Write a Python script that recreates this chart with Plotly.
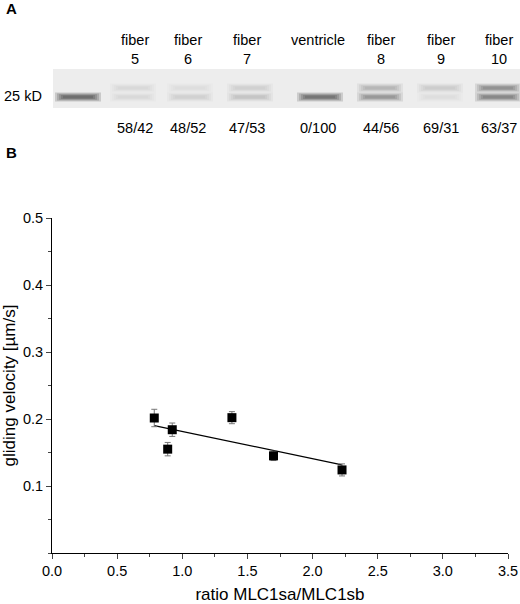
import numpy as np
import plotly.graph_objects as go

ratio = [0.785, 0.888, 0.923, 1.381, 1.70, 2.226]
velocity = [0.2015, 0.155, 0.184, 0.202, 0.145, 0.124]
vel_err = [0.013, 0.010, 0.010, 0.009, 0.007, 0.009]

lane_names = ["fiber<br>5", "fiber<br>6", "fiber<br>7", "ventricle<br> ", "fiber<br>8", "fiber<br>9", "fiber<br>10"]
lane_ratios = ["58/42", "48/52", "47/53", "0/100", "44/56", "69/31", "63/37"]
lane_px = [135, 188, 247, 318, 381, 441, 499]
# band (lane x, upper intensity, lower intensity); first is reference lane
bands = [(78, 0.0, 0.9), (133, 0.10, 0.10), (190, 0.08, 0.13), (250, 0.13, 0.22),
         (320, 0.0, 0.85), (380, 0.32, 0.5), (440, 0.16, 0.08), (498, 0.55, 0.65)]

W, H = 520, 604
L, R, T, B = 52, 12, 218, 51
pw, ph = W - L - R, H - T - B
def px(x): return (x - L) / pw
def py(y): return (H - B - y) / ph

fig = go.Figure()
fit = np.polyfit(ratio, velocity, 1)
xf = np.array([min(ratio), max(ratio)])
fig.add_trace(go.Scatter(x=xf, y=np.polyval(fit, xf), mode="lines",
                         line=dict(color="black", width=1.3), showlegend=False))
fig.add_trace(go.Scatter(x=ratio, y=velocity, mode="markers",
                         marker=dict(symbol="square", size=9, color="black"),
                         error_y=dict(type="data", array=vel_err, color="#777", thickness=1, width=3),
                         showlegend=False))

shapes = [dict(type="rect", xref="paper", yref="paper", x0=px(53), x1=px(520),
               y0=py(108), y1=py(69), fillcolor="#ededed", line=dict(width=0), layer="below")]
for xc, up, lo in bands:
    for yy, a in ((88, up), (97, lo)):
        if a > 0:
            for dw, dh in ((23, 4.5), (21, 3.6), (19, 2.8), (17, 2.0), (15, 1.3)):
                shapes.append(dict(type="rect", xref="paper", yref="paper",
                                   x0=px(xc - dw), x1=px(xc + dw), y0=py(yy + dh), y1=py(yy - dh),
                                   fillcolor="rgba(40,40,40,%.3f)" % (a * 0.2), line=dict(width=0)))

ann = [dict(text="<b>A</b>", x=px(4), y=py(8), xanchor="left", size=15),
       dict(text="<b>B</b>", x=px(4), y=py(152), xanchor="left", size=15),
       dict(text="25 kD", x=px(2), y=py(96), xanchor="left")]
for i, (n, r, x) in enumerate(zip(lane_names, lane_ratios, lane_px)):
    ann.append(dict(text=n, x=px(x), y=py(49), xanchor="center"))
    ann.append(dict(text=r, x=px(x), y=py(128), xanchor="center"))
for a in ann:
    s = a.pop("size", 14.5)
    a.update(xref="paper", yref="paper", yanchor="middle", showarrow=False,
             font=dict(size=s, color="black"))

fig.update_layout(
    width=W, height=H, margin=dict(l=L, r=R, t=T, b=B),
    paper_bgcolor="white", plot_bgcolor="white",
    font=dict(family="Liberation Sans, Arial", size=14.5, color="black"),
    shapes=shapes, annotations=ann,
    xaxis=dict(range=[0, 3.5], dtick=0.5, tickformat=".1f", showline=True, linecolor="black",
               ticks="outside", ticklen=5, showgrid=False, zeroline=False, automargin=False,
               minor=dict(dtick=0.25, ticks="outside", ticklen=3),
               title=dict(text="ratio MLC1sa/MLC1sb", standoff=10)),
    yaxis=dict(range=[0, 0.5], tickvals=[0.1, 0.2, 0.3, 0.4, 0.5], showline=True, linecolor="black",
               ticks="outside", ticklen=5, showgrid=False, zeroline=False, automargin=False,
               minor=dict(dtick=0.05, ticks="outside", ticklen=3),
               title=dict(text="gliding velocity [µm/s]", standoff=4)),
)
fig.write_html("out.html", config={"displayModeBar": False},
               post_script="document.body.style.margin='0';document.body.style.overflow='hidden';")
